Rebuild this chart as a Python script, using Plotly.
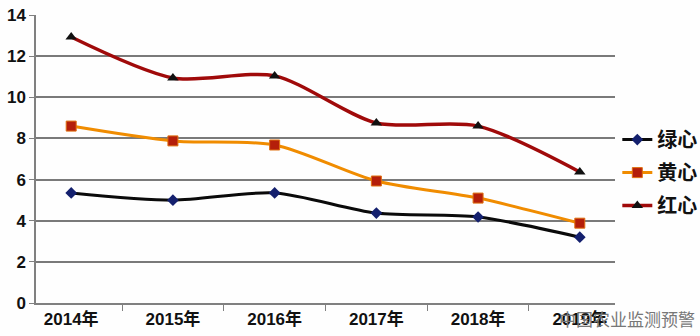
import plotly.graph_objects as go

years = ["2014年", "2015年", "2016年", "2017年", "2018年", "2019年"]
green = [5.35, 5.0, 5.35, 4.37, 4.18, 3.2]
yellow = [8.6, 7.88, 7.68, 5.93, 5.1, 3.88]
red = [12.93, 10.94, 11.04, 8.75, 8.6, 6.37]
names = ["绿心", "黄心", "红心"]

FONT = "Liberation Sans, Noto Sans CJK SC, sans-serif"

fig = go.Figure()
fig.add_trace(go.Scatter(x=years, y=green, name=names[0], mode="lines+markers", legendgroup="a",
                         line=dict(color="#0a0a0a", width=3, shape="spline", smoothing=0.8),
                         marker=dict(symbol="diamond", size=9, color="#14206e")))
fig.add_trace(go.Scatter(x=years, y=yellow, name=names[1], mode="lines+markers", legendgroup="b",
                         line=dict(color="#f08c00", width=3, shape="spline", smoothing=0.8),
                         marker=dict(symbol="square", size=10, color="#b41e0a",
                                     line=dict(color="#e07010", width=1))))
fig.add_trace(go.Scatter(x=years, y=red, name=names[2], mode="lines+markers", legendgroup="c",
                         line=dict(color="#a00a0a", width=3.5, shape="spline", smoothing=0.8),
                         marker=dict(symbol="triangle-up", size=10, color="#111111")))

fig.update_layout(
    width=700, height=336,
    margin=dict(l=36, r=85, t=15, b=33, autoexpand=False),
    paper_bgcolor="#fefefe", plot_bgcolor="#fefefe",
    font=dict(family=FONT, size=17, color="#111111", weight="bold"),
    showlegend=True,
    legend=dict(x=1.004, xanchor="left", y=0.635, yanchor="top",
                font=dict(size=20, weight="bold", color="#111111"),
                tracegroupgap=4, itemwidth=30, bgcolor="rgba(0,0,0,0)"),
    annotations=[dict(text="中国农业监测预警", x=1.0, xref="paper", y=0, yref="paper",
                      xanchor="left", yanchor="middle", showarrow=False, xshift=-58, yshift=-15,
                      font=dict(size=17, color="#777777", family="Noto Sans CJK SC", weight="normal"))],
)
fig.update_xaxes(type="category", tickson="boundaries", ticks="outside", ticklen=6,
                 tickcolor="#808080", showline=True, linecolor="#808080", linewidth=1.5,
                 showgrid=False, tickfont=dict(size=17, weight="bold"), automargin=False)
fig.update_yaxes(range=[0, 14], dtick=2, ticks="outside", ticklen=5, tickcolor="#808080",
                 showline=True, linecolor="#808080", linewidth=1.5,
                 gridcolor="#7a7a7a", gridwidth=1.5, zeroline=False,
                 tickfont=dict(size=17, weight="bold"), automargin=False)

fig.write_html("out.html")
